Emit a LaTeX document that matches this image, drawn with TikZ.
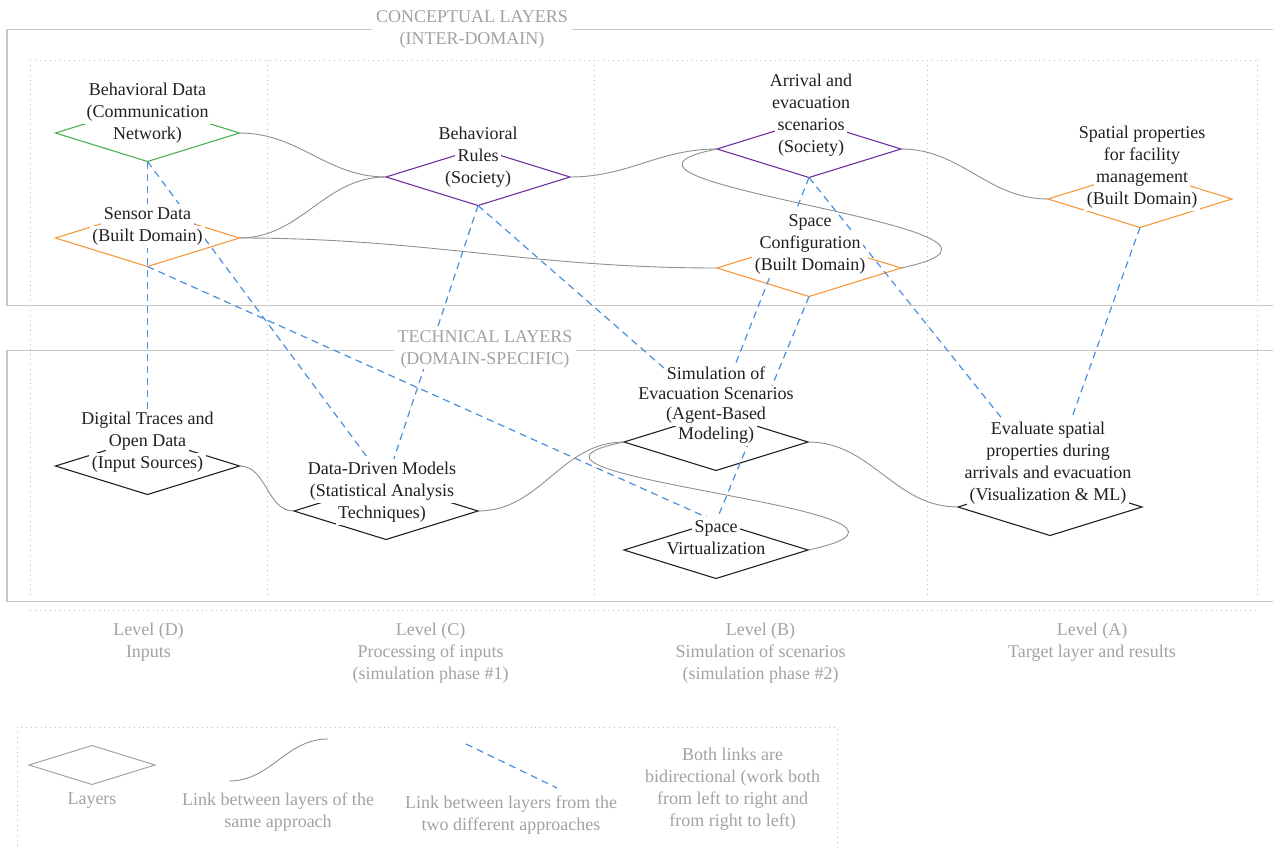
\documentclass[tikz,border=0pt]{standalone}
\usepackage{fontspec}
\setmainfont{Liberation Serif}
\usepackage{xcolor}
\usetikzlibrary{shapes.geometric}
\newcommand{\figfont}{\fontsize{18}{22}\selectfont}
\newcommand{\wline}[1]{{\setlength{\fboxsep}{0pt}\colorbox{white}{\hspace{2.5pt}\strut#1\hspace{2.5pt}}}}
\definecolor{laygreen}{HTML}{4CB050}
\definecolor{laypurple}{HTML}{7030A0}
\definecolor{layorange}{HTML}{F7963C}
\definecolor{linkblue}{HTML}{4A8FDB}
\definecolor{linkgray}{HTML}{8F8F8F}
\definecolor{framegray}{HTML}{C6C6C6}
\definecolor{dotgray}{HTML}{B8B8B8}
\definecolor{notegray}{HTML}{A2A2A2}
\definecolor{inkblack}{HTML}{231F20}

\begin{document}
\begin{tikzpicture}[
  x=1pt,
  y=-1pt,
  every node/.style={font=\figfont, inkblack},
  laybox/.style={diamond, draw, line width=1.1pt, minimum width=184pt,
    minimum height=57pt, inner sep=0pt, outer sep=0pt},
  tagtext/.style={align=center, inner sep=0pt, anchor=south},
  samelink/.style={linkgray, line width=0.9pt},
  crosslink/.style={linkblue, line width=1.2pt, dash pattern=on 7pt off 5pt},
  frameline/.style={framegray, line width=1.3pt},
  colline/.style={dotgray, line width=0.9pt, dash pattern=on 0.9pt off 4pt},
  frametitle/.style={align=center, notegray, fill=white, inner xsep=4pt, inner ysep=1pt},
  notetext/.style={align=center, notegray, inner sep=0pt, anchor=north}
]
  % ---- canvas -----------------------------------------------------------
  \useasboundingbox (0,0) rectangle (1273,848);

  % ---- level columns ----------------------------------------------------
  \draw[colline] (30,60) -- (1257,60);
  \draw[colline] (30,610) -- (1257,610);
  \foreach \x in {30,267,594,927,1257}
    \draw[colline] (\x,60) -- (\x,598);

  % ---- conceptual and technical frames ----------------------------------
  \draw[frameline] (1280,29.5) -| (7,305.5) -- (1280,305.5);
  \draw[frameline] (1280,350.5) -| (7,601.5) -- (1280,601.5);

  % ---- layers -----------------------------------------------------------
  \node[laybox, draw=laygreen]  (behdata)   at (147.5,133) {};
  \node[laybox, draw=layorange] (sensor)    at (147.5,238) {};
  \node[laybox, draw=laypurple] (rules)     at (478,177) {};
  \node[laybox, draw=laypurple] (arrival)   at (809,149) {};
  \node[laybox, draw=layorange] (spaceconf) at (809,268) {};
  \node[laybox, draw=layorange] (spatial)   at (1140,199) {};
  \node[laybox, draw=inkblack]  (traces)    at (147.5,466) {};
  \node[laybox, draw=inkblack]  (models)    at (386,511) {};
  \node[laybox, draw=inkblack]  (simevac)   at (716,442) {};
  \node[laybox, draw=inkblack]  (virtual)   at (716,550) {};
  \node[laybox, draw=inkblack]  (evaluate)  at (1050,507) {};

  % ---- links within one approach ----------------------------------------
  \draw[samelink] (behdata.east) to[out=0, in=180] (rules.west);
  \draw[samelink] (sensor.east) to[out=0, in=180] (rules.west);
  \draw[samelink] (sensor.east) to[out=0, in=180] (spaceconf.west);
  \draw[samelink] (rules.east) to[out=0, in=180] (arrival.west);
  \draw[samelink] (arrival.west) .. controls +(-175,35) and +(190,-40) .. (spaceconf.east);
  \draw[samelink] (arrival.east) to[out=0, in=180] (spatial.west);
  \draw[samelink] (traces.east) to[out=0, in=180] (models.west);
  \draw[samelink] (models.east) to[out=0, in=180] (simevac.west);
  \draw[samelink] (simevac.west) .. controls +(-175,35) and +(190,-40) .. (virtual.east);
  \draw[samelink] (simevac.east) to[out=0, in=180] (evaluate.west);

  % ---- links across the two approaches ----------------------------------
  \draw[crosslink] (behdata.south) -- (traces.north);
  \draw[crosslink] (behdata.south) -- (models.north);
  \draw[crosslink] (sensor.south) -- (virtual.north);
  \draw[crosslink] (rules.south) -- (models.north);
  \draw[crosslink] (rules.south) -- (simevac.north);
  \draw[crosslink] (arrival.south) -- (simevac.north);
  \draw[crosslink] (arrival.south) -- (evaluate.north);
  \draw[crosslink] (spaceconf.south) -- (virtual.north);
  \draw[crosslink] (spatial.south) -- (evaluate.north);

  % ---- frame titles -----------------------------------------------------
  \node[frametitle] (concT) at (472,29) {CONCEPTUAL LAYERS\\(INTER-DOMAIN)};
  \node[frametitle] (techT) at (485,349.5) {TECHNICAL LAYERS\\(DOMAIN-SPECIFIC)};

  % ---- layer texts ------------------------------------------------------
  \node[tagtext] (behdataT) at (147.5,146.5)
    {\wline{Behavioral Data}\\\wline{(Communication}\\\wline{Network)}};
  \node[tagtext] (sensorT) at (147.5,248.5)
    {\wline{Sensor Data}\\\wline{(Built Domain)}};
  \node[tagtext] (rulesT) at (478,190.5)
    {\wline{Behavioral}\\\wline{Rules}\\\wline{(Society)}};
  \node[tagtext] (arrivalT) at (811,159.5)
    {\wline{Arrival and}\\\wline{evacuation}\\\wline{scenarios}\\\wline{(Society)}};
  \node[tagtext] (spaceconfT) at (810,277.5)
    {\wline{Space}\\\wline{Configuration}\\\wline{(Built Domain)}};
  \node[tagtext] (spatialT) at (1142,211.5)
    {\wline{Spatial properties}\\\wline{for facility}\\\wline{management}\\\wline{(Built Domain)}};
  \node[tagtext] (tracesT) at (147.5,475.5)
    {\wline{Digital Traces and}\\\wline{Open Data}\\\wline{(Input Sources)}};
  \node[tagtext] (modelsT) at (382,525.5)
    {\wline{Data-Driven Models}\\\wline{(Statistical Analysis}\\\wline{Techniques)}};
  \node[tagtext, font={\fontsize{18}{20}\selectfont}] (simevacT) at (716,446)
    {\wline{Simulation of}\\\wline{Evacuation Scenarios}\\\wline{(Agent-Based}\\\wline{Modeling)}};
  \node[tagtext] (virtualT) at (716,561.5)
    {\wline{Space}\\\wline{Virtualization}};
  \node[tagtext] (evaluateT) at (1048,507.5)
    {\wline{Evaluate spatial}\\\wline{properties during}\\\wline{arrivals and evacuation}\\\wline{(Visualization \& ML)}};

  % ---- levels -----------------------------------------------------------
  \node[notetext] (levD) at (148.5,623) {Level (D)\\Inputs};
  \node[notetext] (levC) at (430.5,623) {Level (C)\\Processing of inputs\\(simulation phase \#1)};
  \node[notetext] (levB) at (760.5,623) {Level (B)\\Simulation of scenarios\\(simulation phase \#2)};
  \node[notetext] (levA) at (1092,623) {Level (A)\\Target layer and results};

  % ---- legend -----------------------------------------------------------
  \draw[colline] (17,727) rectangle (837,860);
  \node[laybox, draw=notegray, line width=1pt, minimum width=126pt,
    minimum height=39pt] (keylayer) at (92,765) {};
  \node[notetext] (keylayerT) at (92,793) {Layers};
  \coordinate (keysameA) at (229,781);
  \coordinate (keysameB) at (328,739);
  \draw[samelink] (keysameA) to[out=0, in=180] (keysameB);
  \node[notetext] (keysameT) at (278,793) {Link between layers of the\\same approach};
  \coordinate (keycrossA) at (466,744);
  \coordinate (keycrossB) at (557,788);
  \draw[crosslink] (keycrossA) -- (keycrossB);
  \node[notetext] (keycrossT) at (511,796) {Link between layers from the\\two different approaches};
  \node[notetext] (keyboth) at (732.5,748)
    {Both links are\\bidirectional (work both\\from left to right and\\from right to left)};
\end{tikzpicture}
\end{document}
